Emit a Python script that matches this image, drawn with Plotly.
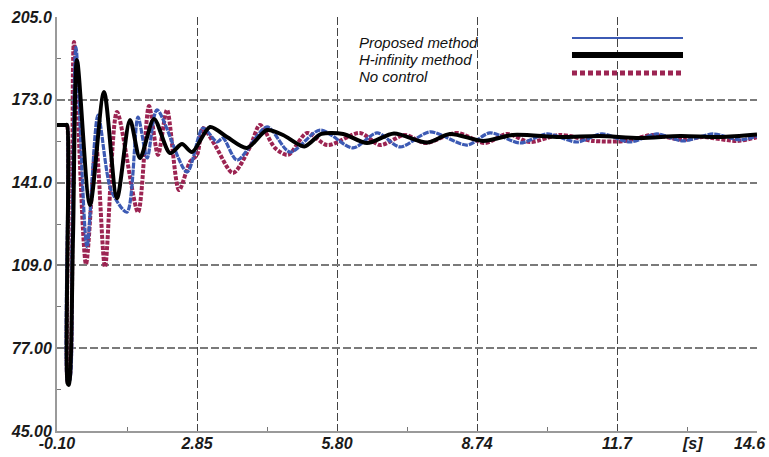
import plotly.graph_objects as go

# ---- data (time [s], value) ----
t_proposed = [-0.1, 0.09, 0.111, 0.125, 0.165, 0.22, 0.300, 0.532, 0.764, 1.04, 1.375, 1.607, 1.80,
              2.007, 2.639, 2.976, 3.271, 3.398, 3.693, 4.325, 4.809, 5.442, 6.137, 6.643, 7.127,
              7.759, 8.539, 9.023, 9.656, 10.225, 10.857, 11.383, 11.973, 12.542, 13.09, 13.722,
              14.291, 14.65]
v_proposed = [163.3, 163.3, 163.3, 64.0, 64.5, 120.0, 193.4, 116.1, 167.1, 138.0, 129.6, 166.3, 150.5,
              169.1, 145.1, 162.1, 156.7, 158.2, 149.7, 162.5, 152.8, 161.3, 154.4, 160.2, 154.8,
              160.6, 155.5, 160.2, 156.3, 159.8, 156.7, 159.8, 156.7, 159.8, 157.1, 159.8,
              157.5, 159.0]

t_hinf = [-0.1, 0.09, 0.111, 0.122, 0.15, 0.237, 0.321, 0.595, 0.890, 1.164, 1.438, 1.649, 1.944,
          2.281, 2.534, 2.745, 3.124, 3.482, 3.903, 4.325, 4.662, 5.11, 5.47, 5.93, 6.432, 7.0,
          7.70, 8.181, 8.876, 9.508, 10.5, 11.34, 12.18, 13.03, 13.87, 14.65]
v_hinf = [163.3, 163.3, 163.3, 63.5, 62.8, 120.0, 188.4, 132.3, 176.0, 135.0, 165.2, 150.5, 165.6,
          152.4, 155.9, 152.8, 162.5, 158.6, 154.4, 161.3, 159.4, 155.0, 159.8, 159.8, 156.3, 160.0,
          156.5, 159.8, 157.1, 159.4, 158.6, 159.0, 158.2, 159.0, 158.6, 159.6]

t_nocontrol = [-0.1, 0.09, 0.111, 0.125, 0.17, 0.258, 0.511, 0.722, 0.911, 1.164, 1.607, 1.838, 2.028,
               2.218, 2.471, 2.702, 2.85, 2.976, 3.229, 3.608, 3.967, 4.177, 4.493, 4.767, 5.168,
               5.60, 6.284, 6.706, 7.233, 7.654, 8.328, 8.918, 9.382, 9.866, 10.499, 11.2, 11.87,
               12.458, 13.09, 13.511, 14.228, 14.65]
v_nocontrol = [163.3, 163.3, 163.3, 64.0, 66.0, 195.3, 109.5, 155.5, 108.4, 168.3, 129.6, 170.6, 151.7,
               169.1, 138.1, 149.0, 151.7, 162.1, 155.5, 144.7, 154.8, 163.3, 154.4, 151.7, 160.2,
               155.5, 160.2, 155.5, 159.4, 156.3, 160.2, 156.3, 159.8, 156.7, 159.4, 157.1, 157.1,
               159.4, 157.5, 158.6, 157.1, 158.6]

series_names = ["Proposed method", "H-infinity method", "No control"]
x_tickvals = [-0.1, 2.85, 5.80, 8.75, 11.7, 14.65]
x_ticktext = ["-0.10", "2.85", "5.80", "8.74", "11.7", "14.6"]
y_tickvals = [45, 77, 109, 141, 173, 205]
y_ticktext = ["45.00", "77.00", "109.0", "141.0", "173.0", "205.0"]
x_minor = [1.375, 4.325, 7.275, 10.225, 13.175]
y_minor = [61, 93, 125, 157, 189]

BLUE = "#3c5ab4"
BLACK = "#000000"
RED = "#9c2452"

fig = go.Figure()
fig.add_trace(go.Scatter(x=t_nocontrol, y=v_nocontrol, mode="lines", name=series_names[2],
                         line=dict(color=RED, width=4, dash="4px,1.5px", shape="spline", smoothing=0.8)))
fig.add_trace(go.Scatter(x=t_proposed, y=v_proposed, mode="lines", name=series_names[0],
                         line=dict(color=BLUE, width=3.2, dash="6px,1px", shape="spline", smoothing=0.8)))
fig.add_trace(go.Scatter(x=t_hinf, y=v_hinf, mode="lines", name=series_names[1],
                         line=dict(color=BLACK, width=4, shape="spline", smoothing=0.8)))

tickfont = dict(family="Liberation Sans, Arial, sans-serif", size=16, color="#1a1a1a",
                weight="bold", style="italic")

# the last x tick label sits at the right edge; it is drawn right-aligned so it stays visible
x_ticktext_axis = x_ticktext[:-1] + [""]

fig.update_layout(
    width=769, height=457,
    margin=dict(l=57, r=12, t=17, b=26, autoexpand=False),
    paper_bgcolor="white", plot_bgcolor="white",
    showlegend=False,
    xaxis=dict(range=[-0.1, 14.65], tickmode="array", tickvals=x_tickvals, ticktext=x_ticktext_axis,
               automargin=False, ticklabelstandoff=-3,
               showgrid=True, gridcolor="#444444", gridwidth=1, griddash="8px,3px",
               showline=True, linecolor="#9a9a9a", linewidth=2, zeroline=False,
               ticks="", tickfont=tickfont,
               minor=dict(tickvals=x_minor, ticks="inside", ticklen=4, tickcolor="#777777",
                          tickwidth=1, showgrid=False)),
    yaxis=dict(range=[45, 205], tickmode="array", tickvals=y_tickvals, ticktext=y_ticktext,
               automargin=False, ticklabeloverflow="allow",
               showgrid=True, gridcolor="#7a7a7a", gridwidth=1.5, griddash="8px,3px",
               showline=True, linecolor="#9a9a9a", linewidth=2, zeroline=False,
               ticks="", tickfont=tickfont,
               minor=dict(tickvals=y_minor, ticks="inside", ticklen=4, tickcolor="#777777",
                          tickwidth=1, showgrid=False)),
)

# last x tick label, right-aligned at the edge
fig.add_annotation(x=x_tickvals[-1], y=0, xref="x", yref="paper", yshift=-12, xshift=10,
                   text=x_ticktext[-1], showarrow=False, font=tickfont,
                   xanchor="right", yanchor="middle")

# x-axis unit label
fig.add_annotation(x=13.3, y=0, xref="x", yref="paper", yshift=-12, text="[s]", showarrow=False,
                   font=tickfont, xanchor="center", yanchor="middle")

# custom legend (text on left, line samples on right)
leg_font = dict(family="Liberation Sans, Arial, sans-serif", size=15, color="#111111", style="italic")
leg_text_y = [0.9372, 0.8962, 0.8567]
leg_line_y = [0.9493, 0.9082, 0.8647]
leg_styles = [dict(color=BLUE, width=2), dict(color=BLACK, width=6),
              dict(color=RED, width=5, dash="5px,3px")]
for name, ty, ly, st in zip(series_names, leg_text_y, leg_line_y, leg_styles):
    fig.add_annotation(x=0.4286, y=ty, xref="paper", yref="paper", text=name, showarrow=False,
                       xanchor="left", yanchor="middle", font=leg_font)
    fig.add_shape(type="line", xref="paper", yref="paper", x0=0.7357, x1=0.8943, y0=ly, y1=ly,
                  line=st)

fig.write_html("out.html")
